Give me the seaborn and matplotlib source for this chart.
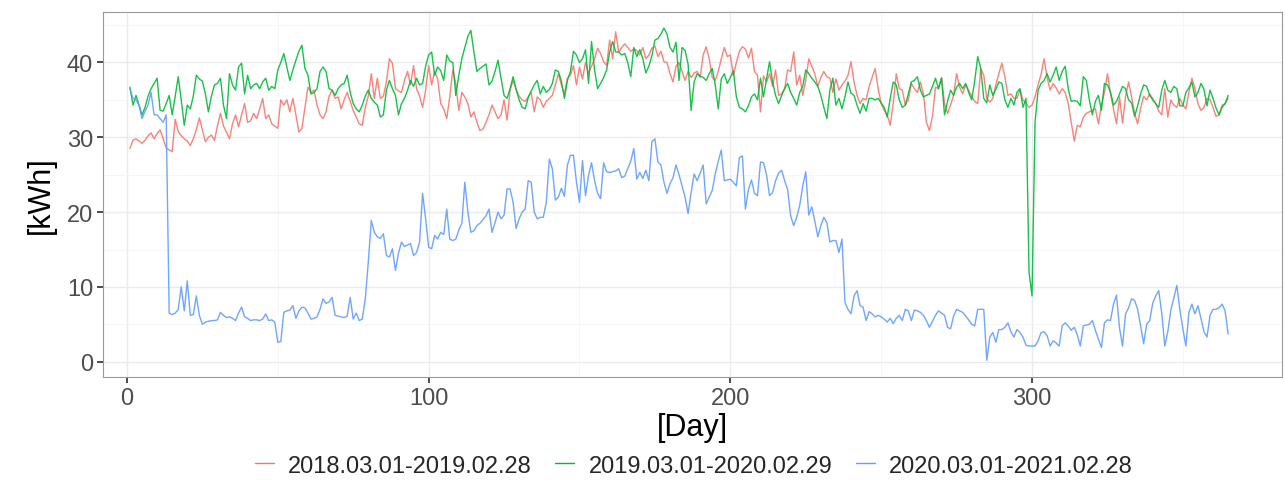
import numpy as np
import pandas as pd
import seaborn as sns
import matplotlib
matplotlib.use("Agg")
import matplotlib.pyplot as plt
from matplotlib.ticker import MultipleLocator

# Daily consumption (kWh), day 1..365
labels = ["2018.03.01-2019.02.28", "2019.03.01-2020.02.29", "2020.03.01-2021.02.28"]
colors = ["#F8766D", "#00BA38", "#619CFF"]

kwh_2018 = [
    28.5, 29.6, 29.8, 29.5, 29.2, 29.6, 30.2, 30.6, 29.8, 30.5,
    31.0, 29.8, 28.6, 28.3, 28.1, 32.4, 30.8, 30.2, 29.8, 29.5,
    28.9, 29.8, 31.0, 32.6, 31.0, 29.4, 30.0, 30.3, 29.6, 31.5,
    33.2, 31.5, 30.7, 29.8, 31.8, 33.0, 31.4, 33.0, 34.5, 32.0,
    32.2, 33.2, 32.5, 33.8, 35.2, 32.5, 33.0, 31.8, 31.5, 31.2,
    35.0, 34.3, 35.0, 33.4, 35.2, 33.0, 30.7, 31.2, 34.0, 36.7,
    36.0, 36.3, 34.3, 33.0, 32.5, 33.4, 35.5, 36.3, 35.2, 35.4,
    33.8, 35.0, 36.0, 34.8, 33.6, 32.7, 31.8, 31.6, 34.0, 35.5,
    38.5, 35.2, 37.9, 35.2, 35.5, 37.4, 40.5, 39.9, 36.5, 36.2,
    36.0, 37.6, 38.8, 37.0, 39.6, 36.5, 35.5, 34.0, 36.3, 39.6,
    37.0, 38.8, 37.8, 34.5, 33.8, 32.5, 35.4, 39.0, 37.2, 33.6,
    36.0, 35.4, 34.5, 32.7, 33.4, 32.0, 30.9, 31.1, 32.0, 33.0,
    34.3, 33.4, 32.5, 33.0, 35.0, 32.3, 36.3, 37.6, 36.4, 35.5,
    35.0, 34.8, 35.4, 36.0, 33.4, 35.4, 35.0, 34.0, 34.8, 35.2,
    35.6, 37.0, 38.5, 37.0, 35.8, 37.9, 38.3, 39.6, 37.0, 39.4,
    37.8, 40.0, 38.5, 39.5, 40.5, 41.9, 41.2, 40.1, 39.6, 43.0,
    40.5, 44.1, 41.4, 42.0, 42.5, 42.0, 41.5, 41.8, 41.6, 41.0,
    42.0, 40.5, 41.0, 41.9, 42.2, 40.8, 41.5, 40.1, 40.0, 38.5,
    37.4, 39.5, 40.0, 38.8, 37.6, 38.8, 38.0, 38.6, 38.8, 38.0,
    41.0, 42.1, 40.5, 38.0, 37.6, 38.8, 40.5, 42.0, 40.8, 41.0,
    38.2, 40.0, 41.5, 42.1, 41.8, 40.6, 41.9, 38.8, 38.3, 33.4,
    38.2, 37.4, 38.5, 36.8, 39.0, 35.6, 35.8, 36.5, 39.0, 38.8,
    41.4, 37.0, 38.3, 35.6, 37.6, 40.5, 39.5, 38.5, 36.8, 38.0,
    38.8, 38.1, 37.9, 36.0, 37.8, 36.3, 37.0, 37.5, 38.3, 40.1,
    37.4, 35.6, 34.5, 35.2, 35.0, 36.8, 38.0, 39.2, 36.5, 34.5,
    33.6, 33.0, 31.6, 34.5, 38.5, 36.5, 36.3, 34.3, 35.0, 37.2,
    36.5, 36.0, 37.4, 35.8, 32.0, 30.9, 32.8, 36.7, 36.5, 38.0,
    34.5, 33.2, 34.3, 35.6, 38.5, 36.7, 35.8, 37.0, 36.3, 35.5,
    34.8, 34.5, 39.2, 38.3, 35.2, 34.7, 35.2, 37.0, 38.5, 39.9,
    38.1, 35.6, 35.8, 35.2, 35.2, 36.3, 35.0, 34.5, 34.0, 34.3,
    35.4, 37.0, 38.4, 40.5, 38.0, 36.3, 37.2, 36.6, 35.8, 36.5,
    36.0, 34.5, 32.0, 29.5, 31.6, 31.4, 32.7, 33.2, 33.4, 33.6,
    33.8, 31.8, 34.3, 36.0, 38.5, 35.8, 33.8, 31.8, 35.4, 31.9,
    35.4, 37.4, 35.4, 33.2, 31.8, 33.9, 35.5, 35.0, 35.8, 35.2,
    34.5, 33.5, 33.0, 36.5, 32.7, 35.0, 34.3, 34.0, 35.2, 34.3,
    33.8, 36.0, 37.9, 36.5, 34.5, 33.6, 34.0, 35.2, 35.0, 34.0,
    32.8, 33.0, 34.3, 34.5, 35.2,
]

kwh_2019 = [
    36.7, 34.3, 35.6, 34.3, 33.0, 34.0, 35.5, 36.5, 37.2, 37.9,
    33.6, 33.5, 34.5, 35.6, 33.0, 35.5, 38.1, 35.0, 31.6, 34.3,
    33.8, 35.5, 38.3, 37.8, 37.5, 35.8, 33.4, 35.5, 37.0, 37.2,
    37.9, 34.3, 32.5, 38.5, 37.0, 36.3, 39.4, 39.9, 35.8, 38.3,
    36.5, 37.0, 37.2, 36.5, 37.4, 37.9, 36.3, 36.8, 36.5, 39.0,
    40.0, 41.2, 39.4, 37.6, 39.0, 40.3, 41.5, 42.3, 39.2, 38.3,
    35.8, 36.0, 36.5, 38.8, 39.4, 38.8, 36.5, 36.3, 35.6, 36.5,
    37.0, 37.2, 38.3, 36.0, 34.5, 33.8, 33.4, 34.3, 35.5, 36.3,
    35.2, 34.7, 34.3, 32.7, 33.0, 36.3, 37.6, 36.5, 35.6, 33.0,
    34.5, 35.2, 36.3, 37.6, 36.8, 37.9, 37.0, 37.2, 39.5, 41.0,
    41.4, 38.3, 39.4, 38.9, 37.6, 41.0, 40.2, 40.0, 35.6, 38.3,
    40.5, 42.0, 43.5, 44.3, 41.4, 38.8, 39.2, 39.5, 39.8, 37.0,
    37.5, 38.8, 40.3, 37.9, 35.6, 35.2, 36.5, 38.1, 36.4, 35.0,
    34.0, 33.8, 35.3, 36.2, 37.0, 37.6, 35.8, 36.8, 36.0, 36.4,
    37.2, 39.0, 38.8, 37.5, 35.2, 37.6, 38.8, 41.5, 41.0, 40.0,
    40.5, 41.7, 37.2, 42.8, 39.0, 36.5, 37.2, 38.0, 39.0, 41.4,
    42.8, 41.4, 41.4, 41.0, 41.2, 40.0, 38.1, 42.0, 40.8, 41.7,
    40.5, 38.6, 39.5, 40.9, 43.0, 43.2, 43.8, 44.6, 43.8, 42.0,
    41.4, 42.7, 37.6, 42.0, 41.6, 39.8, 33.6, 37.4, 38.5, 38.2,
    38.0, 37.6, 38.5, 39.2, 37.0, 33.8, 37.8, 38.5, 37.2, 38.0,
    38.9, 35.4, 34.0, 33.8, 33.4, 34.2, 35.4, 35.8, 35.0, 37.9,
    35.4, 37.8, 40.1, 37.4, 35.6, 34.5, 35.6, 36.5, 37.2, 36.0,
    35.2, 34.3, 36.0, 36.8, 39.0, 38.5, 37.9, 37.4, 36.8, 35.6,
    34.0, 32.5, 36.3, 37.9, 34.3, 35.2, 33.8, 35.4, 37.4, 35.9,
    35.6, 34.3, 33.2, 34.5, 33.5, 35.2, 35.2, 35.0, 35.2, 34.6,
    34.0, 32.7, 35.2, 37.4, 37.0, 35.0, 34.0, 34.3, 35.8, 37.4,
    37.6, 38.1, 36.3, 35.4, 35.6, 35.8, 36.8, 37.9, 36.5, 37.9,
    33.0, 34.8, 36.3, 35.6, 36.7, 37.2, 36.5, 37.2, 36.0, 35.0,
    37.5, 40.8, 39.2, 35.2, 34.6, 37.0, 35.6, 36.4, 37.4, 37.2,
    35.0, 34.0, 35.2, 34.3, 36.0, 36.5, 34.0, 35.2, 12.0, 8.8,
    32.0, 36.3, 37.2, 37.6, 38.5, 37.4, 38.3, 39.4, 37.6, 38.8,
    39.5, 36.5, 34.8, 34.9, 34.8, 34.2, 38.1, 37.6, 35.0, 33.0,
    34.8, 35.6, 33.6, 37.2, 37.0, 36.1, 34.3, 34.8, 35.8, 36.8,
    36.5, 35.0, 34.6, 32.8, 34.2, 35.8, 37.0, 36.8, 35.6, 35.0,
    34.5, 34.0, 36.3, 37.6, 36.3, 36.0, 36.8, 36.5, 34.2, 34.2,
    36.0, 36.6, 37.4, 35.4, 36.0, 37.2, 36.4, 34.2, 36.3, 35.2,
    33.9, 33.0, 34.0, 34.5, 35.6,
]

kwh_2020 = [
    36.5, 35.2, 35.0, 34.3, 32.5, 33.5, 34.3, 36.0, 33.0, 33.0,
    32.5, 32.0, 33.0, 6.5, 6.3, 6.5, 7.0, 10.0, 6.8, 10.8,
    6.2, 6.3, 8.8, 6.2, 5.0, 5.3, 5.4, 5.5, 5.5, 5.6,
    6.6, 6.2, 5.9, 6.0, 5.8, 5.5, 6.5, 7.3, 6.0, 5.8,
    5.5, 5.6, 5.6, 5.5, 5.7, 6.4, 5.5, 5.6, 5.3, 2.6,
    2.7, 6.6, 6.8, 6.9, 7.5, 5.8, 6.8, 7.3, 7.2, 6.5,
    5.7, 5.8, 6.0, 7.0, 8.4, 7.8, 8.0, 8.6, 6.2, 6.1,
    6.0, 5.9, 6.1, 8.6, 5.7, 6.5, 5.5, 5.7, 8.4, 13.3,
    18.9, 17.3, 16.7, 16.5, 17.1, 14.2, 14.0, 15.1, 12.2, 14.5,
    16.0, 15.4, 15.6, 15.8, 14.2, 14.6, 16.0, 22.5, 19.1, 15.3,
    15.1, 16.9, 16.4, 17.3, 17.0, 20.4, 16.4, 16.2, 16.4, 17.6,
    18.5, 24.0, 20.0, 17.3, 17.5, 18.2, 18.5, 19.0, 19.5, 20.4,
    17.3, 18.6, 20.0, 19.1, 19.6, 23.1, 23.1, 21.3, 17.8, 19.1,
    20.0, 20.4, 24.2, 24.0, 20.0, 19.1, 19.3, 19.3, 21.3, 27.1,
    25.8, 21.6, 22.0, 23.2, 22.1, 26.3, 27.6, 27.6, 24.0, 21.3,
    26.9, 22.2, 24.9, 26.6, 24.2, 22.5, 21.8, 26.6, 25.4, 25.3,
    25.4, 25.5, 25.8, 24.6, 24.8, 25.8, 26.8, 28.5, 24.4, 25.3,
    24.5, 25.6, 24.2, 29.4, 29.8, 26.7, 26.3, 24.0, 22.5, 23.8,
    24.6, 26.3, 25.0, 23.5, 22.0, 19.8, 22.6, 25.1, 24.2, 25.2,
    26.3, 21.1, 22.0, 22.9, 25.1, 26.8, 28.3, 24.2, 24.3, 24.4,
    24.0, 23.5, 27.3, 27.5, 20.4, 23.0, 24.3, 22.5, 22.2, 26.7,
    26.6, 25.0, 22.2, 22.6, 24.2, 25.2, 25.6, 24.2, 23.0, 19.5,
    18.2, 19.3, 20.9, 23.5, 25.4, 19.6, 20.7, 18.8, 16.7, 18.2,
    19.3, 18.6, 16.0, 16.2, 16.2, 14.6, 16.4, 7.9, 7.0, 6.4,
    8.8, 9.5, 7.5, 7.3, 5.5, 6.7, 6.4, 6.0, 6.2, 6.0,
    5.7, 5.3, 5.8, 5.1, 5.8, 6.2, 5.5, 7.0, 6.8, 5.5,
    6.9, 6.8, 6.6, 6.2, 5.5, 4.6, 5.4, 6.2, 6.8, 6.5,
    6.2, 4.6, 4.4, 6.1, 7.0, 6.8, 6.6, 6.1, 5.6, 5.0,
    4.8, 7.0, 7.0, 7.0, 0.2, 3.3, 3.9, 2.6, 4.3, 4.3,
    4.6, 5.2, 4.0, 3.3, 4.3, 3.9, 3.3, 2.2, 2.1, 2.1,
    2.1, 2.8, 3.9, 4.0, 3.5, 2.1, 2.8, 2.5, 2.1, 4.8,
    5.2, 4.8, 4.2, 4.6, 3.6, 2.1, 4.8, 4.9, 5.0, 5.5,
    4.2, 3.0, 1.9, 5.2, 5.6, 5.5, 7.7, 8.9, 4.5, 2.1,
    6.4, 7.2, 8.4, 8.2, 7.0, 4.8, 2.4, 5.0, 5.5, 7.8,
    8.8, 9.5, 6.5, 2.1, 4.0, 6.9, 8.5, 10.2, 7.0, 4.4,
    2.1, 6.6, 7.7, 6.4, 7.5, 5.8, 4.0, 3.3, 6.2, 7.0,
    7.0, 7.2, 7.7, 6.8, 3.7,
]

# long format table for seaborn
frames = []
for lab, vals in zip(labels, [kwh_2018, kwh_2019, kwh_2020]):
    frames.append(pd.DataFrame({"Day": np.arange(1, len(vals) + 1), "kWh": vals, "period": lab}))
df = pd.concat(frames, ignore_index=True)

sns.set_theme(style="white")
plt.rcParams["font.family"] = ["Liberation Sans", "DejaVu Sans"]

fig = plt.figure(figsize=(12.85, 4.81), dpi=100)
ax = fig.add_axes([0.080, 0.214, 0.918, 0.759])

sns.lineplot(data=df, x="Day", y="kWh", hue="period", hue_order=labels,
             palette=colors, linewidth=1.0, alpha=0.9, ax=ax, legend=False)

ax.set_xlim(-8, 383)
ax.set_ylim(-2.05, 46.75)
ax.xaxis.set_major_locator(MultipleLocator(100))
ax.xaxis.set_minor_locator(MultipleLocator(50))
ax.yaxis.set_major_locator(MultipleLocator(10))
ax.yaxis.set_minor_locator(MultipleLocator(5))
ax.grid(True, which="major", color="#EBEBEB", linewidth=1.0)
ax.grid(True, which="minor", color="#F5F5F5", linewidth=0.6)
ax.set_axisbelow(True)
for sp in ax.spines.values():
    sp.set_color("#999999")
    sp.set_linewidth(0.8)

ax.tick_params(axis="both", which="major", labelsize=17, labelcolor="#4D4D4D",
               length=4, color="#333333", bottom=True, left=True, pad=3)
ax.tick_params(axis="both", which="minor", length=0)
ax.set_xlabel("[Day]", fontsize=22, color="black", labelpad=2)
ax.set_ylabel("[kWh]", fontsize=22, color="black", labelpad=8)

handles = [plt.Line2D([], [], color=c, linewidth=1.0) for c in colors]
fig.legend(handles, labels, loc="center", bbox_to_anchor=(0.54, 0.03), ncol=3,
           frameon=False, fontsize=17, handlelength=0.8, handletextpad=0.6,
           columnspacing=1.0)

fig.savefig("out.png", dpi=100)
